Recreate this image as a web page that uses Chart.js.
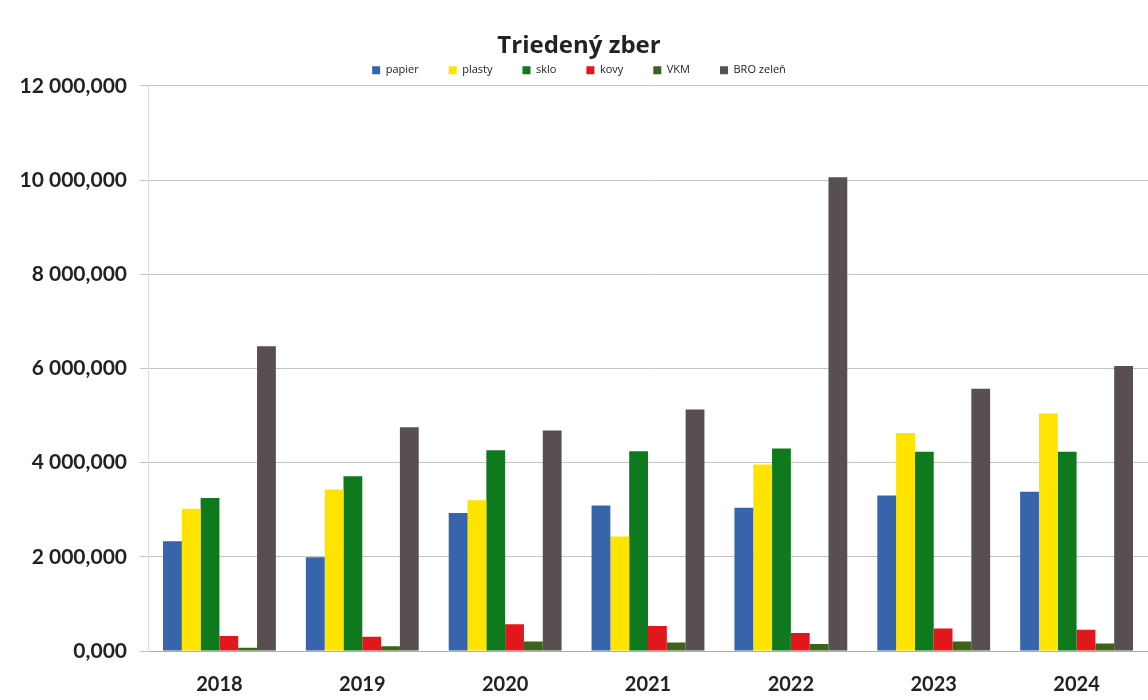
<!DOCTYPE html>
<html>
<head>
<meta charset="utf-8">
<script src="https://cdn.jsdelivr.net/npm/chart.js@4"></script>
<style>
  html, body { margin: 0; padding: 0; background: #fff; overflow: hidden; }
  #wrap { width: 1148px; height: 700px; }
</style>
</head>
<body>
<div id="wrap"><canvas id="chart"></canvas></div>
<script>
// roky
const years = ['2018', '2019', '2020', '2021', '2022', '2023', '2024'];

// hodnoty podľa komodít (odčítané z grafu)
const papier   = [2330, 1990, 2930, 3090, 3040, 3300, 3380];
const plasty   = [3020, 3430, 3200, 2430, 3960, 4630, 5040];
const sklo     = [3250, 3710, 4260, 4240, 4300, 4230, 4230];
const kovy     = [320, 300, 570, 530, 380, 480, 450];
const vkm      = [70, 100, 200, 180, 150, 200, 160];
const broZelen = [6470, 4750, 4680, 5130, 10060, 5570, 6050];

const yTicks = [0, 2000, 4000, 6000, 8000, 10000, 12000];

// formát "12 000,000"
function formatNum(v) {
    return String(Math.round(v)).replace(/\B(?=(\d{3})+(?!\d))/g, ' ') + ',000';
}

const ctx = document.getElementById('chart').getContext('2d');
new Chart(ctx, {
    type: 'bar',
    data: {
        labels: years,
        datasets: [
            { label: 'papier', data: papier, backgroundColor: '#3764aa' },
            { label: 'plasty', data: plasty, backgroundColor: '#ffe400' },
            { label: 'sklo', data: sklo, backgroundColor: '#0e7a1d' },
            { label: 'kovy', data: kovy, backgroundColor: '#e1181b' },
            { label: 'VKM', data: vkm, backgroundColor: '#3c621c' },
            { label: 'BRO zeleň', data: broZelen, backgroundColor: '#585050' }
        ]
    },
    options: {
        responsive: true,
        maintainAspectRatio: false,
        animation: false,
        datasets: {
            bar: { categoryPercentage: 0.79, barPercentage: 1.0 }
        },
        layout: { padding: { left: 10, right: 0, top: 12, bottom: 0 } },
        plugins: {
            title: {
                display: true,
                text: 'Triedený zber',
                color: '#222',
                font: { family: 'Open Sans', size: 24, weight: 'bold' },
                padding: { top: 20, bottom: -26 }
            },
            legend: {
                position: 'top',
                labels: {
                    color: '#222',
                    boxWidth: 8,
                    boxHeight: 8,
                    padding: 30,
                    font: { family: 'Open Sans', size: 11 }
                }
            },
            tooltip: { enabled: false }
        },
        scales: {
            x: {
                grid: { display: false },
                border: { color: '#aaa' },
                afterFit: axis => { axis.height = 49; },
                ticks: {
                    color: '#222',
                    padding: 14,
                    font: { family: 'Lato', size: 20, weight: 'bold' }
                }
            },
            y: {
                min: 0,
                max: 12000,
                afterBuildTicks: axis => { axis.ticks = yTicks.map(v => ({ value: v })); },
                afterFit: axis => { axis.width = 138; },
                grid: { color: '#c4c4c4', tickLength: 8 },
                border: { color: '#ddd' },
                ticks: {
                    color: '#222',
                    padding: 13,
                    font: { family: 'Lato', size: 21, weight: 'bold' },
                    callback: v => formatNum(v)
                }
            }
        }
    }
});
</script>
</body>
</html>
